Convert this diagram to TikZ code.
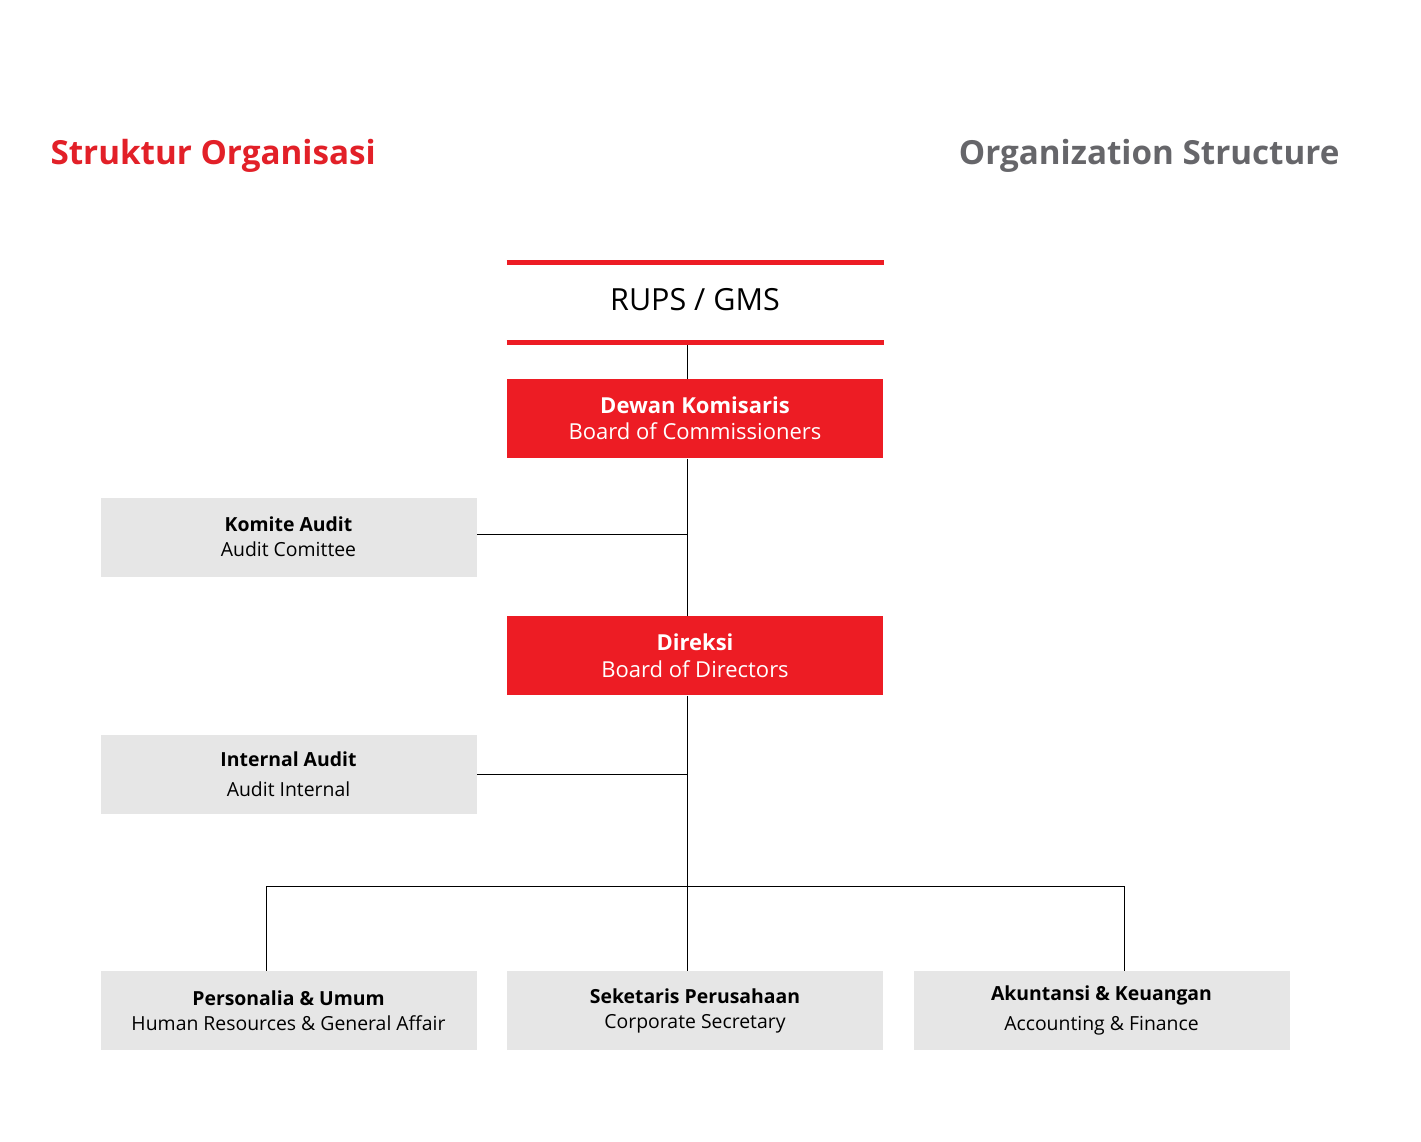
\documentclass[tikz,border=0pt]{standalone}
\usepackage{fontspec}
\setmainfont{Open Sans}
\usetikzlibrary{positioning, matrix, calc}
\definecolor{orgred}{RGB}{237,28,36}
\definecolor{titlered}{RGB}{226,32,40}
\definecolor{titlegray}{RGB}{102,102,106}
\definecolor{boxgray}{RGB}{230,230,230}
\newcommand{\andsym}{\symbol{38}}

\begin{document}
\begin{tikzpicture}[x=1pt,y=1pt,line width=1pt,ampersand replacement=\&,
  redbox/.style={fill=orgred,text=white,font=\fontsize{22}{26}\selectfont},
  graybox/.style={fill=boxgray,text=black},
  redrule/.style={draw=orgred,line width=5pt},
  ]
  \useasboundingbox (0,0) rectangle (1421,-1141);
  \node[anchor=base west,inner sep=0pt,text=titlered,font=\fontsize{33.2}{40}\selectfont\bfseries] (judul) at (50,-164) {Struktur Organisasi};
  \node[anchor=base east,inner sep=0pt,text=titlegray,font=\fontsize{33.2}{40}\selectfont\bfseries] (title) at (1340,-164) {Organization Structure};
  \matrix[anchor=north west,inner sep=0pt,nodes={shape=rectangle, minimum height=79pt, minimum width=376pt, inner sep=0pt, align=center, font=\fontsize{19.4}{25}\selectfont},row sep=39pt, column sep=30pt] (org) at (99.5,-260) {
   \& \node[font=\fontsize{30.5}{36}\selectfont,yshift=2.5pt] (rups) {RUPS / GMS};
   \& \\
   \& \node[redbox] (dewan) {\textbf{Dewan Komisaris}\\Board of Commissioners};
   \& \\
   \node[graybox] (komite) {\textbf{Komite Audit}\\Audit Comittee};
   \& \& \\
   \& \node[redbox] (direksi) {\textbf{Direksi}\\[1pt]Board of Directors};
   \& \\
   \node[graybox] (internal) {\textbf{Internal Audit}\\[5pt]Audit Internal};
   \& \& \\[118pt]
   \node[graybox] (personalia) {\textbf{Personalia \andsym{} Umum}\\Human Resources \andsym{} General Affair};
   \& \node[graybox] (sekretaris) {\textbf{Seketaris Perusahaan}\\Corporate Secretary};
   \& \node[graybox] (akuntansi) {\textbf{Akuntansi \andsym{} Keuangan}\\[5pt]Accounting \andsym{} Finance};\\
  };
  \coordinate (spine) at ([xshift=-7.5pt]dewan.south);
  \coordinate (bus) at ([yshift=84pt]sekretaris.north);
  \path
    ([xshift=-7.5pt,yshift=-2.5pt]rups.south) edge ([xshift=-7.5pt]dewan.north)
    ([xshift=-7.5pt]dewan.south) edge ([xshift=-7.5pt]direksi.north)
    ([xshift=-7.5pt]direksi.south) edge ([xshift=-7.5pt]sekretaris.north)
    ([yshift=3pt]komite.east) edge ([yshift=3pt]komite.east -| spine)
    (internal.east) edge (internal.east -| spine);
  \draw ([xshift=-22pt]personalia.north) |- (bus) -| ([xshift=23pt]akuntansi.north);
  \draw[redrule] ([yshift=-2.5pt]rups.north west) -- ([yshift=-2.5pt]rups.north east);
  \draw[redrule] ([yshift=-2.5pt]rups.south west) -- ([yshift=-2.5pt]rups.south east);
\end{tikzpicture}
\end{document}
